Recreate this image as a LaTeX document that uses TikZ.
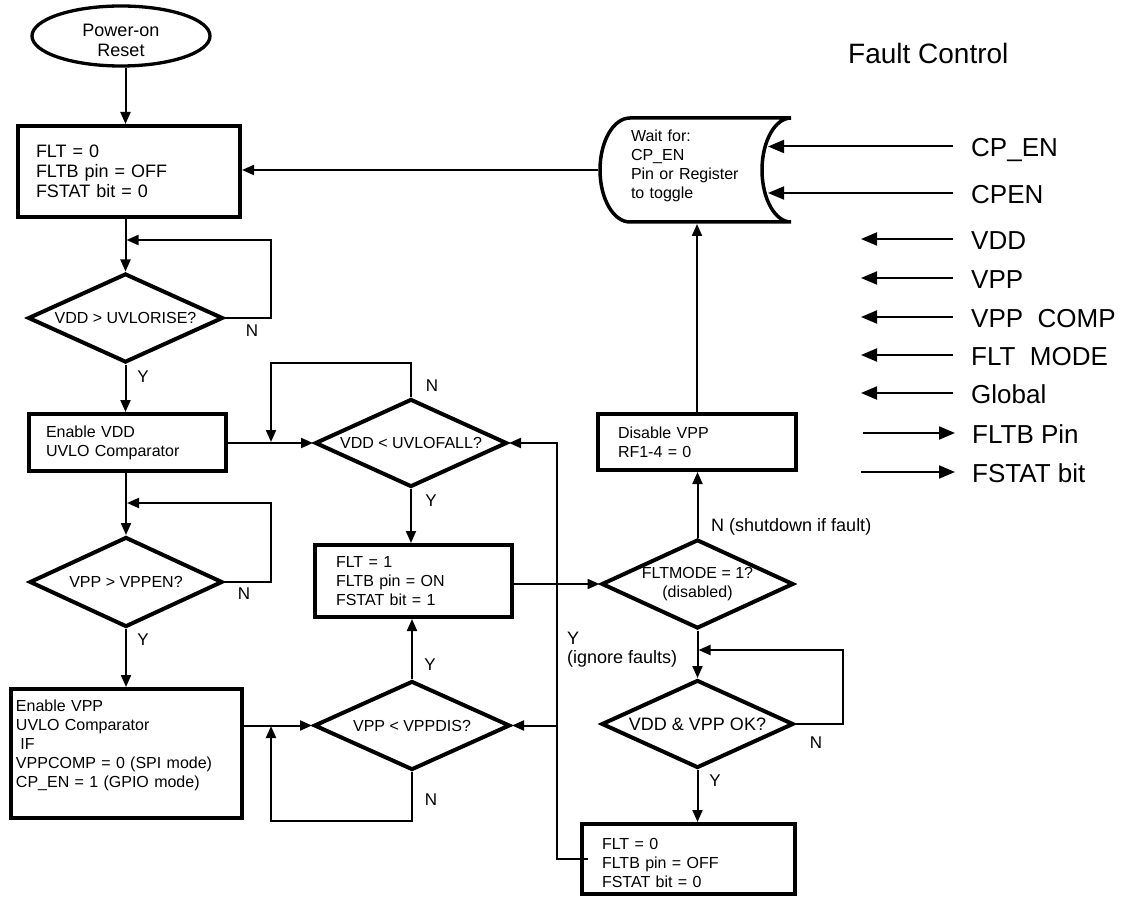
\documentclass[tikz,border=0pt]{standalone}
\usepackage{fontspec}
\setmainfont{Liberation Sans}
\usetikzlibrary{shapes.geometric,arrows.meta,calc}
\begin{document}
\begin{tikzpicture}[x=1pt,y=-1pt,
  every node/.style={font=\fontsize{16}{19}\selectfont},
  box/.style={draw, line width=4pt, rectangle, align=left, outer sep=2pt, inner ysep=0pt},
  dia/.style={draw, line width=4pt, diamond, aspect=2.2, inner sep=0pt, align=center},
  con/.style={line width=2pt, -{Triangle[length=12pt,width=10pt]}},
  ln/.style={line width=2pt},
  big/.style={line width=2pt, -{Triangle[length=16pt,width=13pt]}},
  lbl/.style={inner sep=0pt, font=\fontsize{17}{20}\selectfont},
  sig/.style={anchor=base west, inner sep=0pt, font=\fontsize{26}{30}\selectfont}]
\useasboundingbox (0,0) rectangle (1127,901);

% start
\node[draw, ellipse, line width=3.3pt, minimum width=178pt, minimum height=60pt, inner sep=0pt,
  align=center, font=\fontsize{18}{20}\selectfont] (por) at (121,36) {\rule{0pt}{21pt}Power-on\\Reset};

% boxes
\node[box, minimum width=222pt, minimum height=91pt, text width=186pt, inner xsep=18pt,
  font=\fontsize{18}{20.3}\selectfont] (b1) at (129,171.5) {FLT = 0\\FLTB pin = OFF\\FSTAT bit = 0};
\node[box, minimum width=197pt, minimum height=57pt, text width=163pt, inner xsep=17pt] (b2) at (127.5,442.5)
  {Enable VDD\\UVLO Comparator};
\node[box, minimum width=197pt, minimum height=72pt, text width=155pt, inner xsep=21pt] (b3) at (413.5,581)
  {FLT = 1\\FLTB pin = ON\\FSTAT bit = 1};
\node[box, minimum width=231pt, minimum height=129pt, text width=221pt, inner xsep=5pt] (b4) at (126.5,753.5)
  {Enable VPP\\UVLO Comparator\\\hspace*{4.5pt}IF\\VPPCOMP = 0 (SPI mode)\\CP\_EN = 1 (GPIO mode)\\\mbox{}};
\node[box, minimum width=198pt, minimum height=56pt, text width=158pt, inner xsep=20pt] (b5) at (697,442)
  {Disable VPP\\RF1-4 = 0};
\node[box, minimum width=213pt, minimum height=70pt, text width=173pt, inner xsep=20pt] (b6) at (688.5,859)
  {\rule{0pt}{19.5pt}FLT = 0\\FLTB pin = OFF\\FSTAT bit = 0};

% diamonds
\node[dia, minimum width=195pt, minimum height=89pt] (d1) at (125.5,318) {VDD > UVLORISE?};
\node[dia, minimum width=193pt, minimum height=90pt] (d2) at (126,582) {VPP > VPPEN?};
\node[dia, minimum width=192pt, minimum height=88pt] (d3) at (411,443) {VDD < UVLOFALL?};
\node[dia, minimum width=196pt, minimum height=89pt] (d4) at (412,725.5) {VPP < VPPDIS?};
\node[dia, minimum width=192pt, minimum height=89pt] (d5) at (697.5,584) {FLTMODE = 1?\\(disabled)};
\node[dia, minimum width=192pt, minimum height=88pt, font=\fontsize{18}{20}\selectfont] (d6) at (697.5,724) {VDD \& VPP OK?};

% wait-for (stored data shape)
\node[inner sep=0pt, outer sep=0pt, minimum width=195pt, minimum height=108pt, text width=129pt, align=left]
  (wait) at (695.5,170) {Wait for:\\CP\_EN\\Pin or Register\\to toggle\rule[-12pt]{0pt}{12pt}};
\draw[line width=3.5pt] (630,118) -- (791,118)
  .. controls (775,118) and (762,141.3) .. (762,170)
  .. controls (762,198.7) and (775,222) .. (791,222)
  -- (630,222)
  .. controls (613.4,222) and (600,198.7) .. (600,170)
  .. controls (600,141.3) and (613.4,118) .. (630,118) -- cycle;

% title and signals
\node[anchor=base west, inner sep=0pt, font=\fontsize{28}{32}\selectfont] (title) at (848,64) {Fault Control};
\node[sig] (s1) at (971,157) {CP\_EN};
\node[sig] (s2) at (971,203.5) {CPEN};
\node[sig] (s3) at (971,249.5) {VDD};
\node[sig] (s4) at (971,288.5) {VPP};
\node[sig] (s5) at (971,327.5) {VPP\ \ COMP};
\node[sig] (s6) at (971,365.5) {FLT\ \ MODE};
\node[sig] (s7) at (971,403.5) {Global};
\node[sig] (s8) at (972,443.5) {FLTB Pin};
\node[sig] (s9) at (972,482.5) {FSTAT bit};

\coordinate (w1) at (768,146.5);
\coordinate (w2) at (768,193);
\coordinate (t3) at (861,239);
\coordinate (t4) at (861,278);
\coordinate (t5) at (861,317);
\coordinate (t6) at (861,355);
\coordinate (t7) at (861,393);
\coordinate (t8) at (863,433);
\coordinate (t9) at (861,472);

\draw[big] ([shift={(-18pt,10.5pt)}]s1.base west) -- (w1);
\draw[big] ([shift={(-18pt,10.5pt)}]s2.base west) -- (w2);
\draw[big] ([shift={(-18pt,10.5pt)}]s3.base west) -- (t3);
\draw[big] ([shift={(-18pt,10.5pt)}]s4.base west) -- (t4);
\draw[big] ([shift={(-18pt,10.5pt)}]s5.base west) -- (t5);
\draw[big] ([shift={(-18pt,10.5pt)}]s6.base west) -- (t6);
\draw[big] ([shift={(-18pt,10.5pt)}]s7.base west) -- (t7);
\draw[big] (t8) -- ([shift={(-17pt,10.5pt)}]s8.base west);
\draw[big] (t9) -- ([shift={(-17pt,10.5pt)}]s9.base west);

% junction coordinates
\coordinate (j1) at (126.5,240);
\coordinate (j2) at (127,503);
\coordinate (j3) at (271,442);
\coordinate (j4) at (271,726);
\coordinate (j6) at (698.5,650);
\coordinate (bus) at (557,443);

% connectors
\draw[con] (por.south -| d1.north) -- (b1.north -| d1.north);
\draw[con] (b1.south -| d1.north) -- (d1.north);
\draw[con] (d1.east) -| (271,240) -- (j1);
\draw[con] (d1.south) -- (d1.south |- b2.north);
\draw[con] (d2.north |- b2.south) -- (d2.north);
\draw[con] (d2.east) -| (271,503) -- (j2);
\draw[con] (d2.south) -- (d2.south |- b4.north);
\draw[con] (b2.east |- d3.west) -- (d3.west);
\draw[con] (d3.north) |- (271,363) -- (j3);
\draw[con] (d3.south) -- (d3.south |- b3.north);
\draw[con] (b4.east |- d4.west) -- (d4.west);
\draw[con] (d4.south) |- (271,821) -- (j4);
\draw[con] (d4.north) -- (d4.north |- b3.south);
\draw[con] (b3.east |- d5.west) -- (d5.west);
\draw[con] ([xshift=8pt]b6.west) -- (b6.west -| bus) -- (bus) -- (d3.east);
\draw[con] (bus |- d4.east) -- (d4.east);
\draw[con] (d5.north) -- (d5.north |- b5.south);
\draw[con] (b5.north) -- (b5.north |- wait.south);
\draw[con] (wait.west) -- (wait.west -| b1.east);
\draw[con] (d5.south) -- (d6.north);
\draw[con] (d6.east) -| (843,650) -- (j6);
\draw[con] (d6.south) -- (d6.south |- b6.north);

% branch labels
\node[lbl] (n1) at (252,331) {N};
\node[lbl] (y1) at (143,377) {Y};
\node[lbl] (n2) at (244,594) {N};
\node[lbl] (y2) at (143,640) {Y};
\node[lbl] (n3) at (432,386) {N};
\node[lbl] (y3) at (431,501) {Y};
\node[lbl] (y4) at (430,665) {Y};
\node[lbl] (n4) at (431,800) {N};
\node[lbl] (n6) at (816,743) {N};
\node[lbl] (y6) at (715,781) {Y};
\node[lbl, anchor=west, font=\fontsize{18}{20}\selectfont] (nsh) at (711,527) {N (shutdown if fault)};
\node[lbl, anchor=north west, align=left, font=\fontsize{18}{19}\selectfont] (yig) at (567,632) {Y\\(ignore faults)};
\end{tikzpicture}
\end{document}
